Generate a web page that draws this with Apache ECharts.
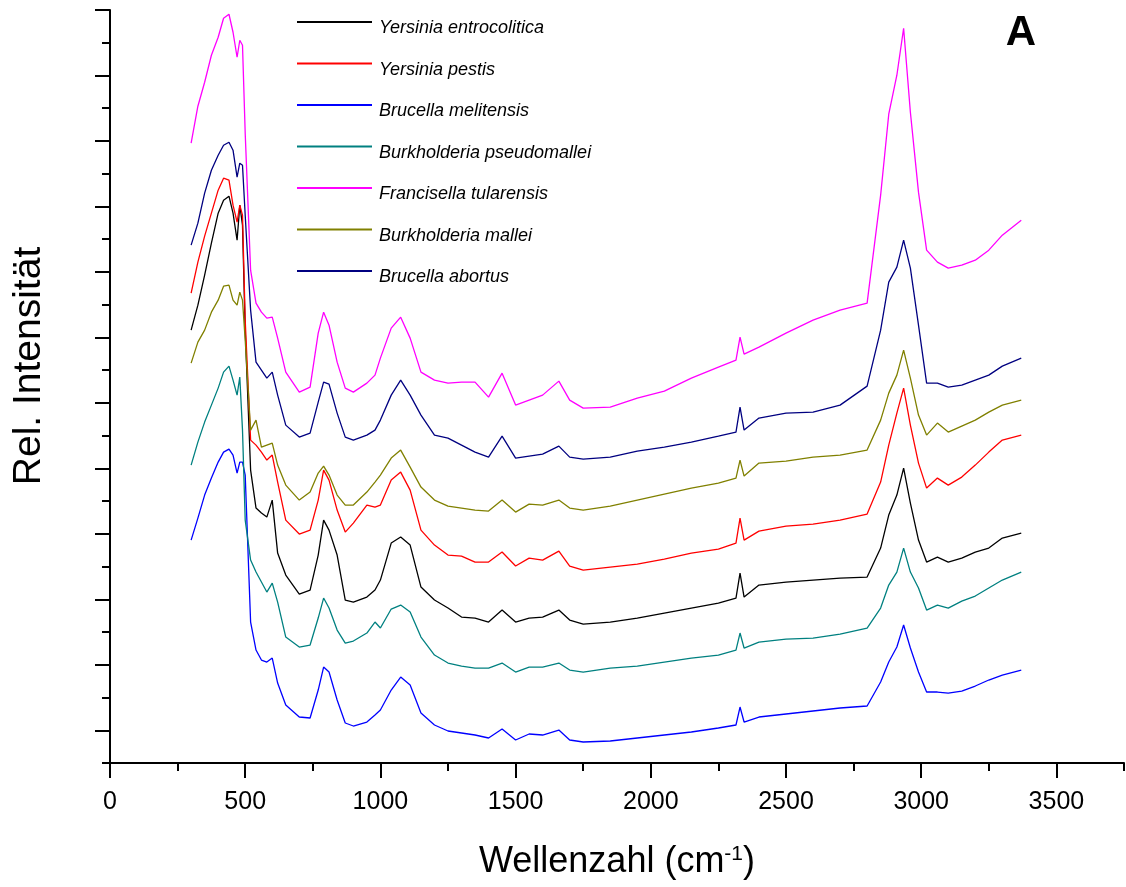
<!DOCTYPE html>
<html>
<head>
<meta charset="utf-8">
<script src="https://cdn.jsdelivr.net/npm/echarts@6/dist/echarts.min.js"></script>
<style>
html,body{margin:0;padding:0;background:#fff;}
#chart{width:1126px;height:887px;}
</style>
</head>
<body>
<div id="chart"></div>
<script>
// Raman shift (cm^-1), shared sampling grid for all spectra
const wavenumber = [300,325,350,375,400,420,440,455,470,480,490,500,520,540,560,580,600,620,650,700,740,770,790,810,840,870,900,950,980,1000,1040,1075,1110,1150,1200,1250,1300,1350,1400,1450,1500,1550,1600,1660,1700,1750,1850,1950,2050,2150,2250,2315,2330,2345,2400,2500,2600,2700,2800,2850,2880,2910,2935,2960,2990,3020,3060,3100,3150,3200,3250,3300,3370];

// Relative intensity (arbitrary units, offset as in the figure)
const yersiniaEntrocolitica = [433,458,488,520,550,563,567,550,523,558,538,433,293,255,250,246,263,210,188,169,173,208,243,233,208,163,161,166,173,183,220,226,218,176,163,155,146,145,141,153,141,145,146,153,143,139,141,145,150,155,160,165,190,166,178,181,183,185,186,215,248,268,295,260,223,201,206,201,205,211,215,225,230];
const yersiniaPestis = [470,501,527,550,573,585,583,558,541,558,548,443,323,318,311,303,308,281,243,229,233,263,293,283,253,231,240,258,256,258,283,291,273,233,218,208,207,201,201,211,197,205,203,212,197,193,196,199,204,210,214,220,245,223,232,237,239,243,249,281,318,350,375,338,300,275,285,278,286,298,311,323,328];
const brucellaMelitensis = [223,245,268,285,301,311,314,308,290,301,301,288,141,113,103,101,105,80,58,46,45,73,96,91,63,40,37,41,48,53,73,86,78,50,38,32,30,28,25,34,23,29,28,33,23,21,22,25,28,31,35,38,56,41,46,49,52,55,57,81,101,116,138,115,91,71,71,70,72,77,83,88,93];
const burkholderiaPseudomallei = [298,321,341,358,375,391,397,383,368,386,333,243,203,191,181,171,180,161,126,116,118,145,165,155,133,120,122,130,141,135,154,158,151,126,108,100,97,95,95,100,91,96,96,100,93,91,95,97,101,105,108,113,130,115,121,124,125,129,135,155,178,191,215,191,175,153,158,155,162,167,175,183,191];
const francisellaTularensis = [620,657,681,708,726,745,749,731,706,723,718,630,493,460,451,445,446,425,391,371,376,430,451,438,401,375,371,380,388,405,435,446,425,391,383,380,381,381,366,390,358,363,368,382,363,355,356,365,372,385,396,403,426,409,416,430,443,453,460,568,649,688,735,651,571,513,501,495,498,503,513,528,543];
const burkholderiaMallei = [400,421,433,451,463,477,478,463,458,471,463,423,333,343,316,318,320,298,278,263,271,290,297,288,268,258,258,271,281,288,305,313,296,276,263,257,255,253,252,263,251,259,258,263,255,253,257,263,269,275,280,285,303,287,300,302,306,308,313,343,370,388,413,385,348,328,340,331,337,343,351,358,363];
const brucellaAbortus = [518,540,570,593,608,618,621,613,586,600,598,548,453,401,393,385,391,368,338,326,330,361,381,379,350,326,323,328,333,343,368,383,368,348,328,325,318,311,306,327,305,307,309,317,306,304,306,312,316,321,327,331,356,333,345,350,351,358,377,433,481,496,523,495,438,380,380,376,378,383,388,397,405];

const seriesNames = ['Yersinia entrocolitica','Yersinia pestis','Brucella melitensis','Burkholderia pseudomallei','Francisella tularensis','Burkholderia mallei','Brucella abortus'];
const seriesValues = [yersiniaEntrocolitica, yersiniaPestis, brucellaMelitensis, burkholderiaPseudomallei, francisellaTularensis, burkholderiaMallei, brucellaAbortus];
const seriesColors = ['#000000','#ff0000','#0000ff','#008080','#ff00ff','#808000','#000080'];

const xTickLabels = ['0','500','1000','1500','2000','2500','3000','3500'];
const xTitle = 'Wellenzahl (cm';
const xTitleSup = '-1';
const yTitle = 'Rel. Intensität';
const panelLetter = 'A';

const FONT = '"Liberation Sans", Arial, Helvetica, sans-serif';
const chart = echarts.init(document.getElementById('chart'), null, {renderer: 'canvas'});

const axisLineStyle = {color: '#000', width: 2};

const option = {
  animation: false,
  backgroundColor: '#ffffff',
  grid: [
    {left: 110, right: 2, top: 10, bottom: 124},
    {left: 110, top: 10, width: 946.4, height: 720.5}
  ],
  xAxis: [
    {
      gridIndex: 0, type: 'value', min: 0, max: 3750, interval: 250,
      axisLine: {show: true, onZero: false, lineStyle: axisLineStyle},
      axisTick: {show: true, length: 8, lineStyle: axisLineStyle},
      axisLabel: {show: false},
      splitLine: {show: false},
      name: '{n|' + xTitle + '}{s|' + xTitleSup + '}{n|)}',
      nameLocation: 'middle',
      nameGap: 81,
      nameTextStyle: {
        rich: {
          n: {fontSize: 36, fontFamily: FONT, color: '#000', lineHeight: 36},
          s: {fontSize: 21, fontFamily: FONT, color: '#000', lineHeight: 12, verticalAlign: 'top'}
        }
      }
    },
    {
      gridIndex: 1, type: 'value', min: 0, max: 3500, interval: 500, offset: 32.5,
      axisLine: {show: false, onZero: false},
      axisTick: {show: true, length: 15, lineStyle: axisLineStyle},
      axisLabel: {
        show: true, fontSize: 25, fontFamily: FONT, color: '#000', margin: 27,
        formatter: function (v) { const i = Math.round(v / 500); return xTickLabels[i] !== undefined ? xTickLabels[i] : ''; }
      },
      splitLine: {show: false}
    }
  ],
  yAxis: [
    {
      gridIndex: 0, type: 'value', min: 0, max: 753.25, interval: 32.75,
      axisLine: {show: true, onZero: false, lineStyle: axisLineStyle},
      axisTick: {show: true, length: 8, lineStyle: axisLineStyle},
      axisLabel: {show: false},
      splitLine: {show: false}
    },
    {
      gridIndex: 1, type: 'value', min: 0, max: 11, interval: 1,
      axisLine: {show: false, onZero: false},
      axisTick: {show: true, length: 15, lineStyle: axisLineStyle},
      axisLabel: {show: false},
      splitLine: {show: false}
    }
  ],
  legend: {
    orient: 'vertical', left: 297, top: 18, padding: 0,
    itemWidth: 75, itemHeight: 14, itemGap: 21.5,
    icon: 'path://M0,0 L75,0 L75,2 L0,2 Z M0,14 L0,14',
    selectedMode: false,
    textStyle: {fontSize: 18, fontStyle: 'italic', fontFamily: FONT, color: '#000', lineHeight: 20, padding: [0, 0, 0, 2]},
    data: seriesNames
  },
  graphic: [
    {
      type: 'text', x: 29, y: 366, rotation: Math.PI / 2,
      style: {text: yTitle, font: '39px ' + FONT, fill: '#000', align: 'center', verticalAlign: 'middle'}
    },
    {
      type: 'text', x: 1021, y: 33,
      style: {text: panelLetter, font: 'bold 42px ' + FONT, fill: '#000', align: 'center', verticalAlign: 'middle'}
    }
  ],
  series: seriesNames.map(function (name, k) {
    return {
      name: name,
      type: 'line',
      xAxisIndex: 0, yAxisIndex: 0,
      symbol: 'none', showSymbol: false,
      color: seriesColors[k],
      lineStyle: {color: seriesColors[k], width: 1.3},
      emphasis: {disabled: true},
      data: wavenumber.map(function (x, i) { return [x, seriesValues[k][i]]; })
    };
  })
};
chart.setOption(option);
</script>
</body>
</html>
